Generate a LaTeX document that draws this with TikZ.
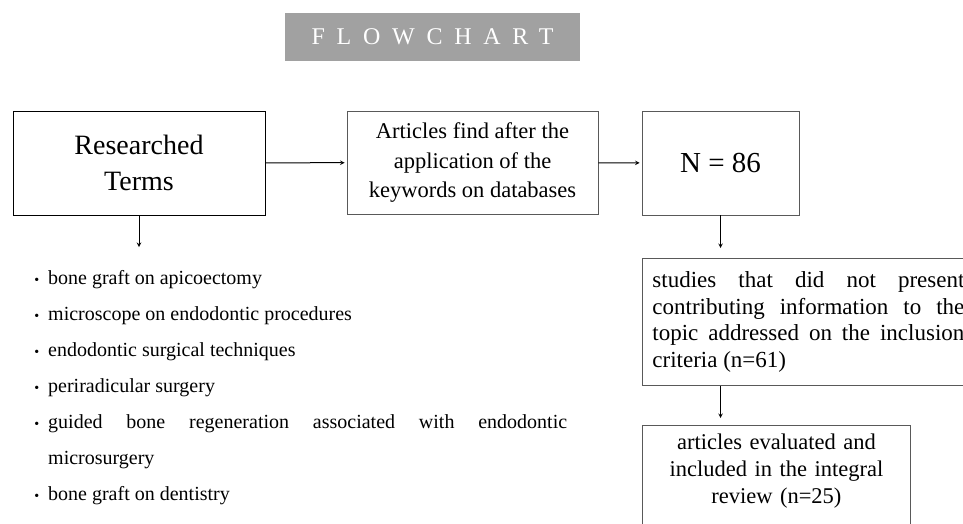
\documentclass[tikz,border=0pt]{standalone}
\usepackage{fontspec}
\setmainfont{Liberation Serif}
\usepackage{enumitem}
\usepackage{tikz}

\begin{document}
\begin{tikzpicture}[x=1pt,y=-1pt,>=stealth,
    box/.style={draw=black!65, line width=0.8pt, inner sep=0pt, align=center},
    link/.style={->, line width=1pt, shorten >=2pt}]
    \useasboundingbox (0,0) rectangle (963,523);
    \clip (0,0) rectangle (963,523);

    % title
    \node[fill=black!37, minimum width=295pt, minimum height=48pt, text=white,
      font=\fontsize{24}{28}\selectfont\addfontfeatures{LetterSpace=49}] (title) at (432.5,37) {FLOWCHART};

    \node[box, draw=black, minimum width=252pt, minimum height=104pt,
      font=\fontsize{28}{36}\selectfont] (terms) at (139,163) {Researched\\Terms};
    \node[box, minimum width=251pt, minimum height=103pt,
      font=\fontsize{22.5}{29.5}\selectfont] (found) at (472.5,162.5) {Articles find after the\\application of the\\keywords on databases};
    \node[box, minimum width=157pt, minimum height=104pt,
      font=\fontsize{29}{32}\selectfont] (total) at (720.5,163) {N = 86};

    \node[box, anchor=north west, text width=312pt, inner xsep=10pt, minimum height=127pt,
      align=justify, font=\fontsize{23}{26.5}\selectfont] (excluded) at (642,258)
      {studies that did not present\linebreak contributing information to the\linebreak
       topic addressed on the inclusion\linebreak criteria (n=61)};
    \node[box, anchor=north west, text width=248pt, inner xsep=10pt, inner ysep=8pt, text depth=95pt,
      font=\fontsize{22.5}{27}\selectfont] (included) at (642,425)
      {articles evaluated and\\included in the integral\\review (n=25)};

    % searched terms
    \node[anchor=north west, text width=537pt, inner sep=0pt, align=justify,
      font=\fontsize{20}{36}\selectfont] (list) at (30,248.5) {%
      \hyphenpenalty=10000 \linewidth=537pt
      \begin{itemize}[label={\fontsize{14}{14}\selectfont\textbullet}, leftmargin=18pt, labelsep=9pt,
          topsep=0pt, partopsep=0pt, itemsep=0pt, parsep=0pt]
        \item bone graft on apicoectomy
        \item microscope on endodontic procedures
        \item endodontic surgical techniques
        \item periradicular surgery
        \item guided bone regeneration associated with endodontic\linebreak microsurgery
        \item bone graft on dentistry
      \end{itemize}};

    \coordinate (termsend) at (139,247);

    \draw[link] (terms) -- (found);
    \draw[link] (found) -- (total);
    \draw[link, shorten >=0pt] (terms) -- (termsend);
    \draw[link, shorten >=10pt] (total) -- (total.south |- excluded.north);
    \draw[link, shorten >=7pt] (excluded.south -| total) -- (total.south |- included.north);
\end{tikzpicture}
\end{document}
